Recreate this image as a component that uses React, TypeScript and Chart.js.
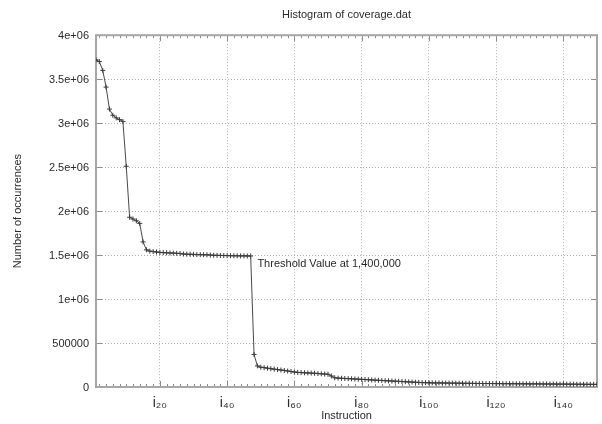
import React, { useEffect, useRef } from 'react';
import { Chart, registerables } from 'chart.js';

Chart.register(...registerables);

const titleText = 'Histogram of coverage.dat';
const xAxisTitle = 'Instruction';
const yAxisTitle = 'Number of occurrences';

// Number of occurrences per instruction (instruction 1..150)
const occurrences = [
  3720000, 3700000, 3600000, 3410000, 3160000, 3090000, 3060000, 3040000, 3020000, 2510000,
  1930000, 1910000, 1890000, 1860000, 1650000, 1560000, 1545000, 1540000, 1535000, 1530000,
  1528000, 1526000, 1524000, 1522000, 1520000, 1518000, 1512000, 1510000, 1509000, 1508000,
  1506000, 1505000, 1504000, 1503000, 1500000, 1498000, 1497000, 1496000, 1495000, 1494000,
  1493000, 1492000, 1492000, 1491000, 1491000, 1490000, 1490000, 370000, 240000, 225000,
  220000, 214000, 208000, 203000, 198000, 193000, 188000, 182000, 176000, 170000,
  166000, 164000, 162000, 160000, 158000, 156000, 153000, 150000, 147000, 145000,
  125000, 105000, 101000, 99000, 97000, 95000, 93000, 91000, 89000, 87000,
  85000, 83000, 80000, 78000, 76000, 74000, 72000, 70000, 68000, 66000,
  64000, 62000, 60000, 58000, 56000, 54000, 52000, 50000, 49000, 48000,
  47000, 46500, 46200, 45500, 45000, 44600, 44000, 43500, 43100, 42500,
  42000, 41600, 41000, 40500, 40000, 39800, 39500, 39300, 39000, 38700,
  38400, 38000, 37800, 37500, 37200, 36900, 36700, 36300, 36000, 35700,
  35400, 35100, 34800, 34600, 34200, 33900, 33600, 33400, 33000, 32700,
  32400, 32100, 31800, 31500, 31200, 30900, 30600, 30300, 30000, 29500,
];

const xMin = 1;
const xMax = 150;
const xTickValues = [20, 40, 60, 80, 100, 120, 140];
const xTickLabels = ['i₂₀', 'i₄₀', 'i₆₀', 'i₈₀', 'i₁₀₀', 'i₁₂₀', 'i₁₄₀'];
const xMinorStep = 2;

const yMin = 0;
const yMax = 4000000;
const yTickValues = [0, 500000, 1000000, 1500000, 2000000, 2500000, 3000000, 3500000, 4000000];
const yTickLabels = ['0', '500000', '1e+06', '1.5e+06', '2e+06', '2.5e+06', '3e+06', '3.5e+06', '4e+06'];

const annotationText = 'Threshold Value at 1,400,000';
const annotationX = 49;
const annotationY = 1400000;

const FONT = '"Liberation Sans", Arial, Helvetica, sans-serif';
const TEXT = '#2a2a2a';

const framePlugin = {
  id: 'frameTicks',
  beforeDatasetsDraw(chart: any) {
    const { ctx, chartArea, scales } = chart;
    const { left, right, top, bottom } = chartArea;
    const xs = scales.x;
    const ys = scales.y;
    ctx.save();
    ctx.strokeStyle = '#8c8c8c';
    ctx.lineWidth = 1;
    ctx.beginPath();
    for (let u = xMin + 1; u <= xMax; u += xMinorStep) {
      const px = Math.round(xs.getPixelForValue(u)) + 0.5;
      const major = xTickValues.includes(u);
      const len = major ? 6 : 3;
      ctx.moveTo(px, bottom);
      ctx.lineTo(px, bottom - len);
      ctx.moveTo(px, top);
      ctx.lineTo(px, top + len);
    }
    for (const v of yTickValues) {
      const py = Math.round(ys.getPixelForValue(v)) + 0.5;
      ctx.moveTo(left, py);
      ctx.lineTo(left + 6, py);
      ctx.moveTo(right, py);
      ctx.lineTo(right - 6, py);
    }
    ctx.stroke();
    ctx.strokeStyle = '#a6a6a6';
    ctx.lineWidth = 2;
    ctx.strokeRect(left, top, right - left, bottom - top);
    ctx.restore();
  },
  afterDatasetsDraw(chart: any) {
    const { ctx, scales } = chart;
    ctx.save();
    ctx.font = `11px ${FONT}`;
    ctx.fillStyle = TEXT;
    ctx.textAlign = 'left';
    ctx.textBaseline = 'middle';
    ctx.fillText(annotationText, scales.x.getPixelForValue(annotationX), scales.y.getPixelForValue(annotationY));
    ctx.restore();
  },
};

export default function App() {
  const canvasRef = useRef<HTMLCanvasElement | null>(null);

  useEffect(() => {
    const canvas = canvasRef.current;
    if (!canvas) return;
    const chart = new Chart(canvas, {
      type: 'line',
      data: {
        datasets: [
          {
            data: occurrences.map((v, i) => ({ x: i + 1, y: v })),
            borderColor: '#4a4a4a',
            borderWidth: 1,
            pointStyle: 'cross',
            pointRadius: 2.5,
            pointBorderWidth: 1,
            pointBorderColor: '#3a3a3a',
            pointBackgroundColor: '#3a3a3a',
            tension: 0,
            fill: false,
          },
        ],
      },
      options: {
        animation: false,
        responsive: false,
        maintainAspectRatio: false,
        layout: { padding: { left: 0, right: 5, top: 0, bottom: 0 } },
        plugins: {
          legend: { display: false },
          tooltip: { enabled: false },
          title: {
            display: true,
            text: titleText,
            fullSize: false,
            color: TEXT,
            font: { family: FONT, size: 11, weight: 'normal' },
            padding: { top: 8, bottom: 14 },
          },
        },
        scales: {
          x: {
            type: 'linear',
            min: xMin,
            max: xMax,
            afterBuildTicks: (s: any) => {
              s.ticks = xTickValues.map((v) => ({ value: v }));
            },
            afterFit: (s: any) => {
              s.height = 37;
            },
            ticks: {
              autoSkip: false,
              maxRotation: 0,
              padding: 8,
              color: TEXT,
              font: { family: FONT, size: 14 },
              callback: (v: any) => {
                const idx = xTickValues.indexOf(Number(v));
                return idx >= 0 ? xTickLabels[idx] : '';
              },
            },
            grid: { color: '#b0b0b0', lineWidth: 1, drawTicks: false },
            border: { display: false, dash: [1, 2] },
            title: {
              display: true,
              text: xAxisTitle,
              color: TEXT,
              font: { family: FONT, size: 11 },
              padding: { top: 0, bottom: 1 },
            },
          },
          y: {
            type: 'linear',
            min: yMin,
            max: yMax,
            afterBuildTicks: (s: any) => {
              s.ticks = yTickValues.map((v) => ({ value: v }));
            },
            afterFit: (s: any) => {
              s.width = 96;
            },
            ticks: {
              padding: 7,
              labelOffset: 1,
              color: TEXT,
              font: { family: FONT, size: 11 },
              callback: (v: any) => {
                const idx = yTickValues.indexOf(Number(v));
                return idx >= 0 ? yTickLabels[idx] : '';
              },
            },
            grid: { color: '#b0b0b0', lineWidth: 1, drawTicks: false },
            border: { display: false, dash: [1, 2] },
            title: {
              display: true,
              text: yAxisTitle,
              color: TEXT,
              font: { family: FONT, size: 11 },
              padding: { top: 11, bottom: 0 },
            },
          },
        },
      },
      plugins: [framePlugin],
    });
    return () => chart.destroy();
  }, []);

  return (
    <div style={{ position: 'absolute', left: 0, top: 0, width: 602, height: 424, background: '#ffffff' }}>
      <canvas ref={canvasRef} width={602} height={424} style={{ width: 602, height: 424, display: 'block' }} />
    </div>
  );
}
